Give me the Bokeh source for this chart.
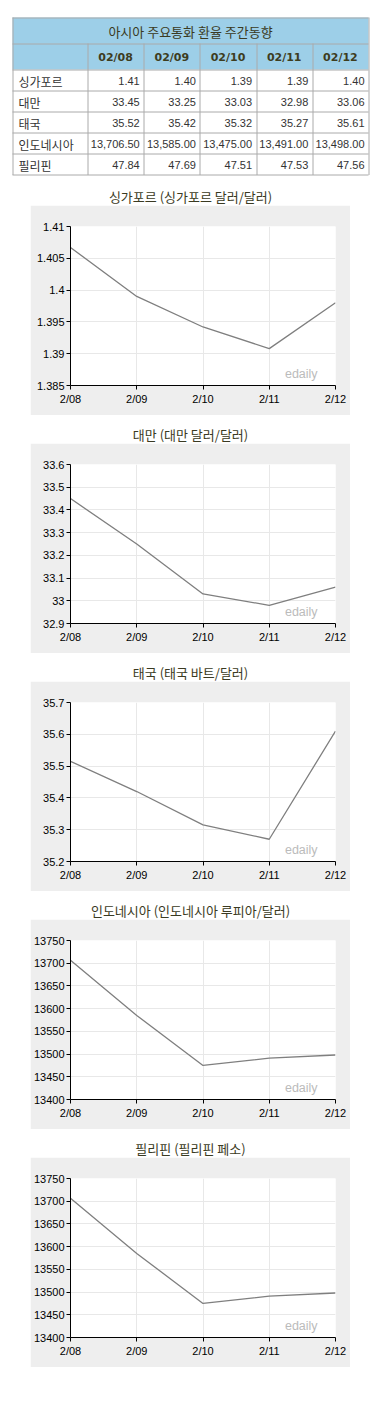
from bokeh.plotting import figure
from bokeh.models import ColumnDataSource, Range1d, FixedTicker, CustomJSTickFormatter, Spacer
from bokeh.layouts import column, row
from bokeh.core.properties import value
from bokeh.embed import file_html
from bokeh.resources import INLINE

# ---------------- data ----------------
table_title = "아시아 주요통화 환율 주간동향"
dates_table = ["02/08", "02/09", "02/10", "02/11", "02/12"]
dates_axis = ["2/08", "2/09", "2/10", "2/11", "2/12"]
countries = ["싱가포르", "대만", "태국", "인도네시아", "필리핀"]

tbl_sg = [1.41, 1.40, 1.39, 1.39, 1.40]
tbl_tw = [33.45, 33.25, 33.03, 32.98, 33.06]
tbl_th = [35.52, 35.42, 35.32, 35.27, 35.61]
tbl_id = [13706.50, 13585.00, 13475.00, 13491.00, 13498.00]
tbl_ph = [47.84, 47.69, 47.51, 47.53, 47.56]

chart_titles = [
    "싱가포르 (싱가포르 달러/달러)",
    "대만 (대만 달러/달러)",
    "태국 (태국 바트/달러)",
    "인도네시아 (인도네시아 루피아/달러)",
    "필리핀 (필리핀 페소)",
]
ch_sg = [1.4067, 1.3990, 1.3942, 1.3908, 1.3980]
ch_tw = [33.45, 33.25, 33.03, 32.98, 33.06]
ch_th = [35.515, 35.42, 35.315, 35.27, 35.61]
ch_id = [13706.5, 13585.0, 13475.0, 13491.0, 13498.0]
ch_ph = [13706.5, 13585.0, 13475.0, 13491.0, 13498.0]  # as drawn in the source

y_lo = [1.385, 32.9, 35.2, 13400, 13400]
y_hi = [1.41, 33.6, 35.7, 13750, 13750]
y_step = [0.005, 0.1, 0.1, 50, 50]

# ---------------- styles ----------------
KR = "Noto Sans CJK KR"
NUM = "Liberation Sans"
HEAD_BG = "#9dcfe8"
BORDER = "#aaaaaa"
PANEL = "#eeeeee"

# ---------------- table ----------------
TW, TH = 364, 169
tx0, tx1 = 4, 360
first_w = 75
col_edges = [tx0, tx0 + first_w] + [tx0 + first_w + (tx1 - tx0 - first_w) * (i + 1) / 5 for i in range(5)]
row_h = [26, 26, 21, 21, 21, 21, 21]
row_edges = [9]
for h in row_h:
    row_edges.append(row_edges[-1] + h)

t = figure(width=TW, height=TH, x_range=Range1d(0, TW), y_range=Range1d(TH, 0),
           output_backend="svg", toolbar_location=None, min_border=0,
           outline_line_color=None, background_fill_color="white", border_fill_color="white")
t.axis.visible = False
t.grid.visible = False

# header fills
t.quad(left=[tx0], right=[tx1], top=[row_edges[0]], bottom=[row_edges[2]],
       fill_color=HEAD_BG, line_color=None)
# horizontal lines
hy = [e + 0.5 for e in row_edges]
t.segment(x0=[tx0] * len(hy), x1=[tx1] * len(hy), y0=hy, y1=hy, line_color=BORDER, line_width=1)
# vertical lines
vx_outer = [tx0 + 0.5, tx1 + 0.5]
t.segment(x0=vx_outer, x1=vx_outer, y0=[row_edges[0]] * 2, y1=[row_edges[-1] + 0.5] * 2,
          line_color=BORDER, line_width=1)
vx_inner = [round(e) + 0.5 for e in col_edges[1:-1]]
t.segment(x0=vx_inner, x1=vx_inner, y0=[row_edges[1]] * len(vx_inner),
          y1=[row_edges[-1] + 0.5] * len(vx_inner), line_color=BORDER, line_width=1)

t.text(x=[(tx0 + tx1) / 2], y=[(row_edges[0] + row_edges[1]) / 2 + 1], text=[table_title],
       text_align="center", text_baseline="middle", text_color="#3a3a22",
       text_font=value(KR), text_font_size=value("13px"))

hx = [(col_edges[i + 1] + col_edges[i + 2]) / 2 for i in range(5)]
t.text(x=hx, y=[(row_edges[1] + row_edges[2]) / 2 + 1] * 5, text=dates_table,
       text_align="center", text_baseline="middle", text_color="#3d3d1f",
       text_font=value("DejaVu Sans"), text_font_style="bold", text_font_size=value("11px"))

tables = [tbl_sg, tbl_tw, tbl_th, tbl_id, tbl_ph]
lab_y = [(row_edges[2 + r] + row_edges[3 + r]) / 2 + 1 for r in range(5)]
t.text(x=[tx0 + 6] * 5, y=lab_y, text=countries, text_align="left", text_baseline="middle",
       text_color="#333333", text_font=value(KR), text_font_size=value("12px"))
vx, vy, vt = [], [], []
for r, vals in enumerate(tables):
    for c, v in enumerate(vals):
        vx.append(col_edges[c + 2] - 4)
        vy.append(lab_y[r])
        vt.append(f"{v:,.2f}")
t.text(x=vx, y=vy, text=vt, text_align="right", text_baseline="middle",
       text_color="#333333", text_font=value(NUM), text_font_size=value("11px"))

# ---------------- charts ----------------
series = [ch_sg, ch_tw, ch_th, ch_id, ch_ph]
items = [t]
fmt = CustomJSTickFormatter(code="return String(Math.round(tick*1e6)/1e6);")
for k in range(5):
    # title strip
    tf = figure(width=TW, height=28, x_range=Range1d(0, TW), y_range=Range1d(28, 0),
                output_backend="svg", toolbar_location=None, min_border=0,
                outline_line_color=None, border_fill_color="white", background_fill_color="white")
    tf.axis.visible = False
    tf.grid.visible = False
    tf.text(x=[182], y=[19], text=[chart_titles[k]], text_align="center", text_baseline="middle",
            text_color="#3a3a22", text_font=value(KR), text_font_size=value("13px"))
    items.append(tf)

    lo, hi, st = y_lo[k], y_hi[k], y_step[k]
    n = int(round((hi - lo) / st))
    yt = [round(lo + i * st, 6) for i in range(n + 1)]
    xs = list(range(len(dates_axis)))

    p = figure(width=320, height=210, x_range=Range1d(0, len(xs) - 1), y_range=Range1d(lo, hi),
               output_backend="svg", toolbar_location=None,
               min_border_left=40, min_border_right=15, min_border_top=21, min_border_bottom=30,
               border_fill_color=PANEL, background_fill_color="white", outline_line_color=None)
    p.xaxis.ticker = FixedTicker(ticks=xs)
    p.xaxis.major_label_overrides = {i: d for i, d in enumerate(dates_axis)}
    p.yaxis.ticker = FixedTicker(ticks=yt)
    p.yaxis.formatter = fmt
    for ax in (p.xaxis, p.yaxis):
        ax.axis_line_color = "black"
        ax.major_tick_line_color = "black"
        ax.major_tick_in = 0
        ax.major_tick_out = 4
        ax.minor_tick_line_color = None
        ax.major_label_text_font = NUM
        ax.major_label_text_font_size = "11px"
        ax.major_label_text_color = "black"
    p.xaxis.major_label_standoff = 3
    p.yaxis.major_label_standoff = 2
    p.grid.grid_line_color = "#e8e8e8"
    p.grid.grid_line_width = 1

    p.line(xs, series[k], line_color="#7f7f7f", line_width=1.3)
    p.text(x=[3.73], y=[lo + 0.074 * (hi - lo)], text=["edaily"], text_align="right",
           text_baseline="middle", text_color="#bbbbbb", text_font=value(NUM),
           text_font_size=value("12.5px"))
    items.append(row(Spacer(width=22, height=210), p))

inner = column(*items)
layout = column(Spacer(width=372, height=8), row(Spacer(width=8, height=10), inner))
open("out.html", "w").write(file_html(layout, INLINE))
